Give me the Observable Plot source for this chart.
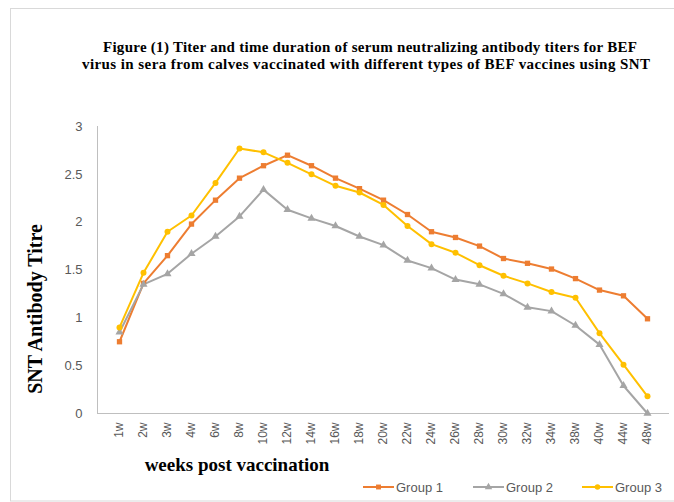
<!DOCTYPE html>
<html><head><meta charset="utf-8">
<script src="https://cdn.jsdelivr.net/npm/d3@7"></script>
<script src="https://cdn.jsdelivr.net/npm/@observablehq/plot@0.6"></script>
<style>
html,body{margin:0;padding:0;background:#fff;}
#chart{position:relative;width:674px;height:502px;overflow:hidden;}
</style></head><body><div id="chart"></div>
<script>
const weeks = ["1w","2w","3w","4w","6w","8w","10w","12w","14w","16w","18w","20w","22w","24w","26w","28w","30w","32w","34w","38w","40w","44w","48w"];
const group1 = [0.75,1.36,1.65,1.98,2.23,2.46,2.59,2.70,2.59,2.46,2.35,2.23,2.08,1.90,1.84,1.75,1.62,1.57,1.51,1.41,1.29,1.23,0.99];
const group2 = [0.85,1.35,1.46,1.67,1.85,2.06,2.34,2.13,2.04,1.96,1.85,1.76,1.60,1.52,1.40,1.35,1.25,1.11,1.07,0.92,0.72,0.29,0.0];
const group3 = [0.90,1.47,1.90,2.07,2.41,2.77,2.73,2.62,2.50,2.38,2.31,2.18,1.96,1.77,1.68,1.55,1.44,1.36,1.27,1.21,0.84,0.51,0.18];
const seriesNames = ["Group 1","Group 2","Group 3"];
const seriesColors = ["#ED7D31","#A5A5A5","#FFC000"];
const seriesSymbols = ["square","triangle","circle"];
const yTicks = [0,0.5,1,1.5,2,2.5,3];
const titleLines = ["Figure (1) Titer and time duration of serum neutralizing antibody titers for BEF",
  "virus in sera from calves vaccinated with different types of BEF vaccines using SNT"];
const yLabel = "SNT Antibody Titre";
const xLabel = "weeks post vaccination";

const seriesValues = [group1, group2, group3];
const rows = [];
seriesNames.forEach((g, s) => weeks.forEach((w, i) => rows.push({week: w, value: seriesValues[s][i], group: g})));

const plot = Plot.plot({
  width: 674, height: 502,
  marginTop: 126, marginBottom: 89, marginLeft: 97, marginRight: 5,
  style: {background: "transparent", color: "#595959", fontFamily: "'Liberation Sans', Arial, sans-serif"},
  x: {type: "point", domain: weeks, padding: 0.5, label: null},
  y: {domain: [0, 3], label: null},
  color: {domain: seriesNames, range: seriesColors},
  symbol: {domain: seriesNames, range: seriesSymbols},
  marks: [
    Plot.frame({anchor: "left", stroke: "#bfbfbf"}),
    Plot.ruleY([0], {stroke: "#bfbfbf"}),
    Plot.axisY({ticks: yTicks, tickSize: 0, tickPadding: 15, tickFormat: d => String(d), fontSize: 13, label: null}),
    Plot.axisX({tickRotate: -90, tickSize: 0, tickPadding: 9, fontSize: 12, label: null}),
    Plot.line(rows, {x: "week", y: "value", stroke: "group", z: "group", strokeWidth: 2}),
    Plot.dot(rows, {x: "week", y: "value", fill: "group", symbol: "group", r: 3, stroke: "none"})
  ]
});

const svg = d3.select(plot);
// outer border
svg.insert("rect", ":first-child").attr("x", 10.5).attr("y", 8.5).attr("width", 680).attr("height", 492.5)
  .attr("fill", "none").attr("stroke", "#d9d9d9");
// title
const serif = "'Liberation Serif', 'Times New Roman', serif";
const titleX = [103, 82], titleW = [534, 568];
titleLines.forEach((t, i) => {
  svg.append("text").attr("x", titleX[i]).attr("y", 52 + i * 17).attr("text-anchor", "start")
    .attr("textLength", titleW[i]).attr("lengthAdjust", "spacing")
    .attr("font-family", serif).attr("font-weight", "bold").attr("font-size", 15).attr("fill", "#000").text(t);
});
// y label
svg.append("text").attr("transform", "translate(42,309) rotate(-90)").attr("text-anchor", "middle")
  .attr("font-family", serif).attr("font-weight", "bold").attr("font-size", 20).attr("fill", "#000").text(yLabel);
// x label
svg.append("text").attr("x", 237).attr("y", 471).attr("text-anchor", "middle")
  .attr("font-family", serif).attr("font-weight", "bold").attr("font-size", 19).attr("fill", "#000").text(xLabel);
// legend
const legendX = [363, 473, 582];
const sym = {square: d3.symbolSquare, triangle: d3.symbolTriangle, circle: d3.symbolCircle};
seriesNames.forEach((g, i) => {
  const lg = svg.append("g").attr("transform", `translate(${legendX[i]},487)`);
  lg.append("line").attr("x1", 0).attr("x2", 31).attr("y1", 0).attr("y2", 0).attr("stroke", seriesColors[i]).attr("stroke-width", 2);
  lg.append("path").attr("transform", "translate(15.5,0)").attr("d", d3.symbol(sym[seriesSymbols[i]], 24)()).attr("fill", seriesColors[i]);
  lg.append("text").attr("x", 33).attr("y", 4.5).attr("text-anchor", "start").attr("font-family", "'Liberation Sans', Arial, sans-serif")
    .attr("font-size", 13).attr("fill", "#595959").text(g);
});
document.getElementById("chart").appendChild(plot);
</script></body></html>
